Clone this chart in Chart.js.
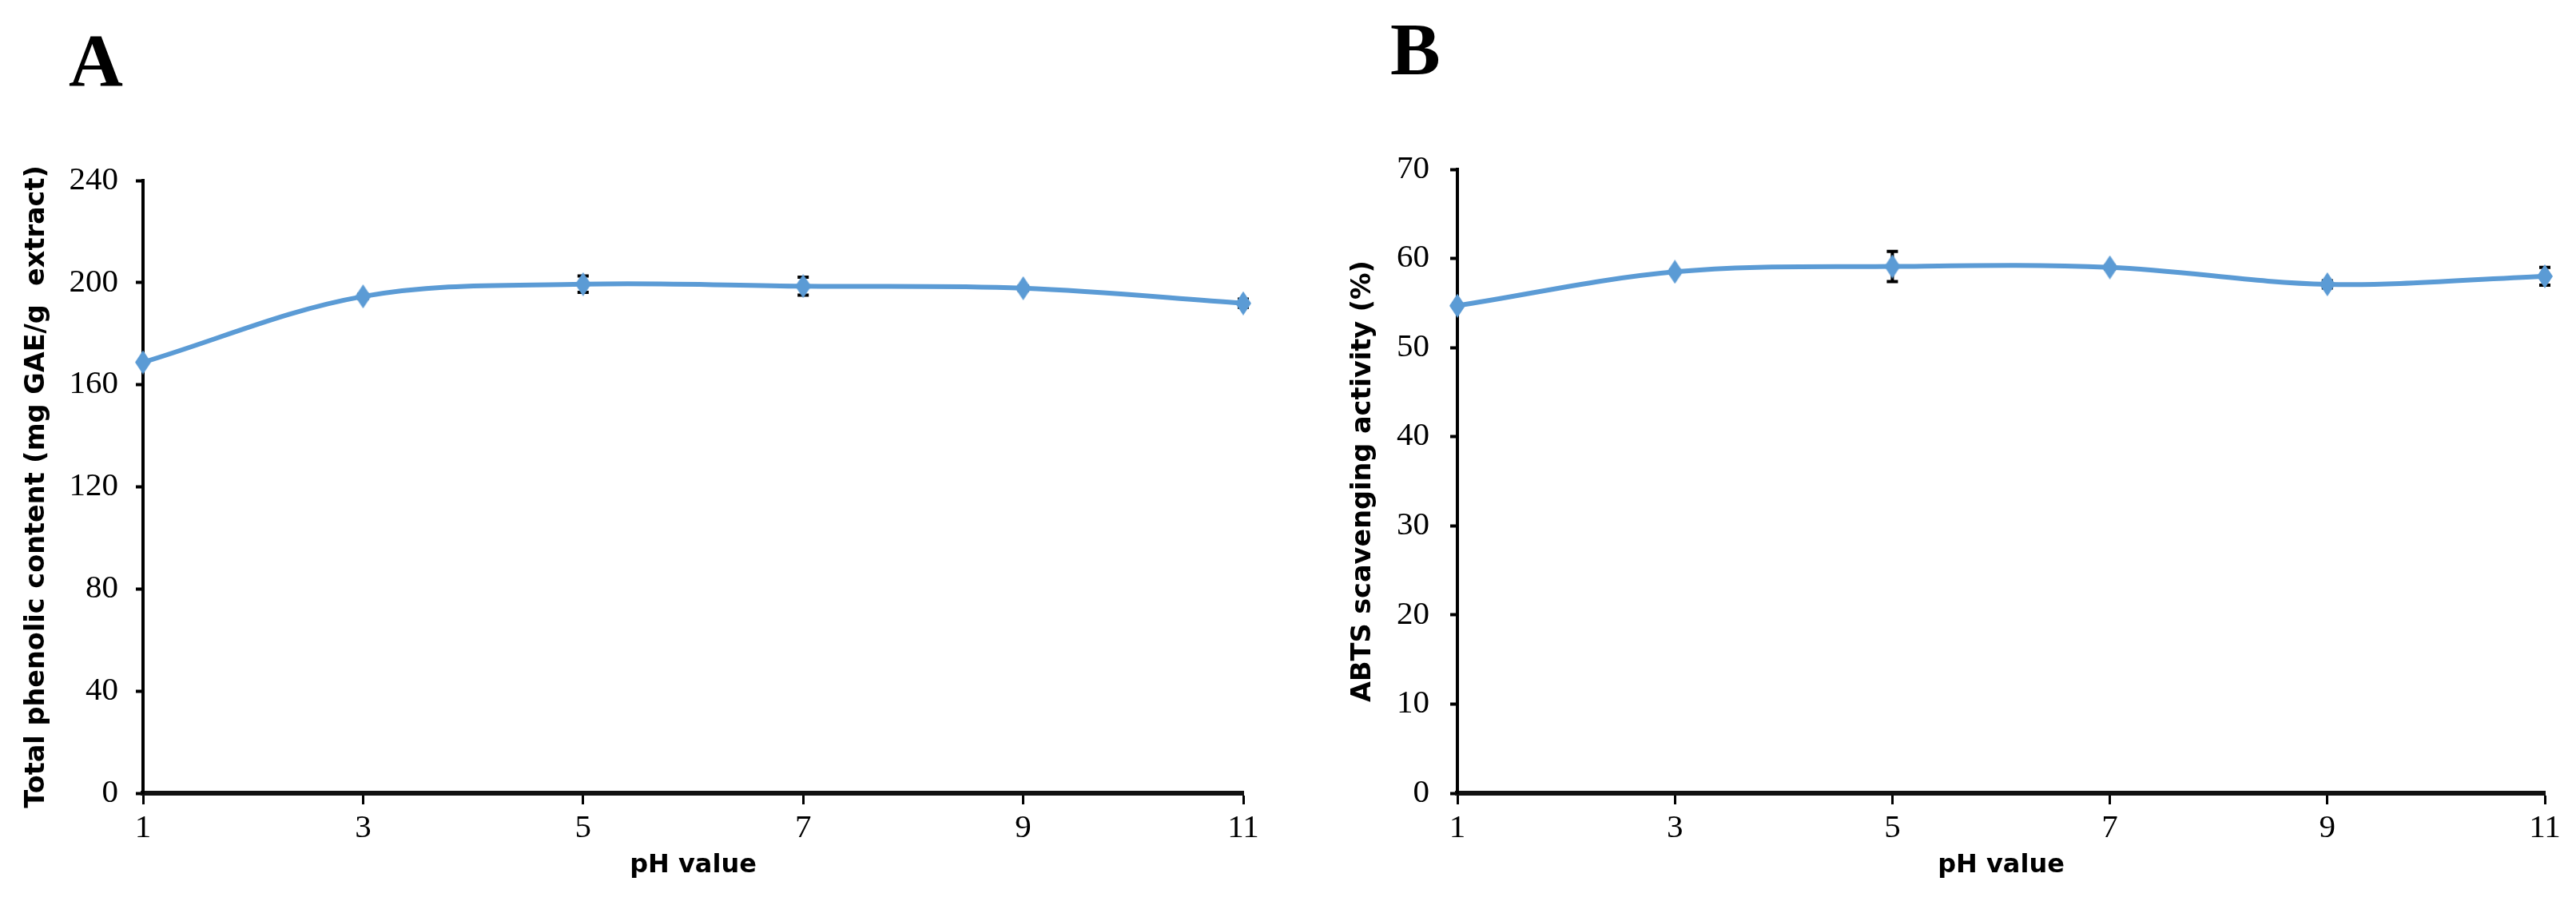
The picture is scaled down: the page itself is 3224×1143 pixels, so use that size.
<!DOCTYPE html>
<html>
<head>
<meta charset="utf-8">
<script src="https://cdn.jsdelivr.net/npm/chart.js@4.4.1/dist/chart.umd.min.js"></script>
<style>
  body { margin: 0; background: #fff; width: 3224px; height: 1143px; position: relative; overflow: hidden; }
  canvas { position: absolute; top: 0; }
  .panel-letter { position: absolute; font-family: "Liberation Serif", serif; font-weight: bold; font-size: 94px; line-height: 94px; color: #000; }
</style>
</head>
<body>
<div class="panel-letter" style="left:86px; top:28px;">A</div>
<div class="panel-letter" style="left:1740px; top:14px;">B</div>
<canvas id="chartA" width="1600" height="1143" style="left:0px"></canvas>
<canvas id="chartB" width="1612" height="1143" style="left:1612px"></canvas>
<script>
let phValues = [1, 3, 5, 7, 9, 11]
let phTicks = [1, 3, 5, 7, 9, 11]

let phenolic = [168.8, 194.6, 199.4, 198.6, 197.8, 191.9]
let phenolicErr = [0.5, 0.8, 3.2, 3.5, 0.8, 1.6]
let phenolicTicks = [0, 40, 80, 120, 160, 200, 240]

let abts = [54.7, 58.5, 59.1, 59.0, 57.1, 58.0]
let abtsErr = [0.2, 0.2, 1.7, 0.2, 0.4, 1.0]
let abtsTicks = [0, 10, 20, 30, 40, 50, 60, 70]

let BLUE = "#5b9bd5"

// tall diamond marker like the Excel one
let marker = document.createElement("canvas")
marker.width = 20
marker.height = 30
let mctx = marker.getContext("2d")
mctx.fillStyle = BLUE
mctx.beginPath()
mctx.moveTo(10, 0)
mctx.lineTo(20, 15)
mctx.lineTo(10, 30)
mctx.lineTo(0, 15)
mctx.closePath()
mctx.fill()

// error bars drawn under the markers
let errorBars = {
    id: "errorBars",
    beforeDatasetsDraw(chart, args, opts) {
        let ctx = chart.ctx
        let xs = chart.scales.x
        let ys = chart.scales.y
        ctx.save()
        ctx.strokeStyle = "#000"
        ctx.lineWidth = 4
        opts.values.forEach((v, i) => {
            let e = opts.errors[i]
            let px = xs.getPixelForValue(opts.xs[i])
            let top = ys.getPixelForValue(v + e)
            let bot = ys.getPixelForValue(v - e)
            ctx.beginPath()
            ctx.moveTo(px, top)
            ctx.lineTo(px, bot)
            ctx.moveTo(px - 7, top)
            ctx.lineTo(px + 7, top)
            ctx.moveTo(px - 7, bot)
            ctx.lineTo(px + 7, bot)
            ctx.stroke()
        })
        ctx.restore()
    }
}

function makePanel(id, values, errors, yTicks, yTitle, yWidth, titlePad, tickPad, padRight, padTop) {
    let points = values.map((v, i) => ({ x: phValues[i], y: v }))
    let yMax = yTicks[yTicks.length - 1]
    let yStep = yTicks[1] - yTicks[0]
    return new Chart(document.getElementById(id), {
        type: "line",
        data: {
            datasets: [{
                data: points,
                borderColor: BLUE,
                borderWidth: 6,
                tension: 0.35,
                fill: false,
                clip: false,
                pointStyle: marker,
                pointRadius: 10
            }]
        },
        options: {
            responsive: false,
            devicePixelRatio: 1,
            animation: false,
            layout: { padding: { left: 0, right: padRight, top: padTop, bottom: 0 } },
            plugins: {
                legend: { display: false },
                tooltip: { enabled: false },
                errorBars: { values: values, errors: errors, xs: phValues }
            },
            scales: {
                x: {
                    type: "linear",
                    min: phTicks[0],
                    max: phTicks[phTicks.length - 1],
                    afterBuildTicks: s => { s.ticks = phTicks.map(v => ({ value: v })) },
                    afterFit: s => { s.height = 150 },
                    border: { display: true, color: "#111", width: 6 },
                    grid: { drawOnChartArea: false, drawTicks: true, tickLength: 14, tickColor: "#000", tickWidth: 3 },
                    ticks: { color: "#000", padding: 6, font: { family: "Liberation Serif", size: 41 } },
                    title: {
                        display: true,
                        text: "pH value",
                        color: "#000",
                        padding: { top: 0, bottom: 40 },
                        font: { family: "'DejaVu Sans', sans-serif", size: 32, weight: "bold" }
                    }
                },
                y: {
                    min: 0,
                    max: yMax,
                    ticks: { stepSize: yStep, color: "#000", padding: tickPad, font: { family: "Liberation Serif", size: 41 } },
                    afterFit: s => { s.width = yWidth },
                    border: { display: true, color: "#000", width: 4 },
                    grid: { drawOnChartArea: false, drawTicks: true, tickLength: 9, tickColor: "#000", tickWidth: 4 },
                    title: {
                        display: true,
                        text: yTitle,
                        color: "#000",
                        padding: { top: titlePad, bottom: 0 },
                        font: { family: "'DejaVu Sans', sans-serif", size: 33.5, weight: "bold" }
                    }
                }
            }
        },
        plugins: [errorBars]
    })
}

let chartA = makePanel("chartA", phenolic, phenolicErr, phenolicTicks,
    "Total phenolic content (mg GAE/g  extract)", 179, 26, 22, 44, 226)
let chartB = makePanel("chartB", abts, abtsErr, abtsTicks,
    "ABTS scavenging activity (%)", 212, 74, 26, 39, 212)
</script>
</body>
</html>
